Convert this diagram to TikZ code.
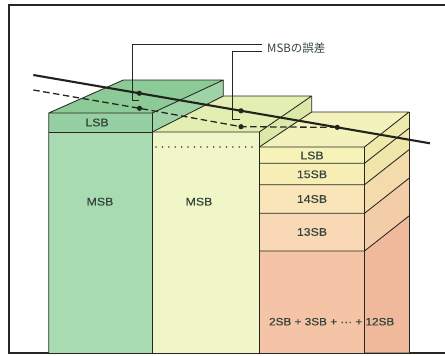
\documentclass[tikz,border=0pt]{standalone}
\usepackage{fontspec}
\newfontfamily\lab{Liberation Sans}[FakeStretch=1.12,FakeBold=0.4]
\newfontfamily\jp{Noto Sans CJK JP}
\definecolor{ink}{HTML}{26281F}
\definecolor{txt}{HTML}{34443A}
\definecolor{gband}{HTML}{96CFA2}
\definecolor{gfront}{HTML}{A8DBB2}
\definecolor{gtop}{HTML}{8CCA98}
\definecolor{gside}{HTML}{9ED2A7}
\definecolor{yfront}{HTML}{F0F6C8}
\definecolor{ytop}{HTML}{E3EEB2}
\definecolor{yside}{HTML}{DCE8A8}
\definecolor{ctop}{HTML}{F4F2BC}
\definecolor{ca}{HTML}{F6F2B8}
\definecolor{cb}{HTML}{F7EEB6}
\definecolor{cc}{HTML}{F9E5B8}
\definecolor{cd}{HTML}{F9D8B6}
\definecolor{ce}{HTML}{F5C3A5}
\definecolor{sa}{HTML}{EEEAAC}
\definecolor{sb}{HTML}{F0E6AC}
\definecolor{sc}{HTML}{F3DBAC}
\definecolor{sd}{HTML}{F3CCA8}
\definecolor{se}{HTML}{F0B99B}
\begin{document}
\begin{tikzpicture}[x=1pt,y=-1pt,
  edge/.style={draw=ink,line width=0.85pt,line join=round},
  lbl/.style={font=\lab\fontsize{11}{12}\selectfont,text=txt,inner sep=0pt},
  dot/.style={circle,fill=ink,inner sep=0pt,minimum size=5.2pt},
  lead/.style={draw=ink,line width=0.65pt},
  mainline/.style={draw=ink!90!black,line width=2.1pt},
  dashline/.style={draw=ink,line width=1.3pt,dash pattern=on 6.5pt off 3.5pt}]
\useasboundingbox (0,0) rectangle (445,356);
% frame
\draw[ink,line width=1.3pt] (446,5) -- (9,5) -- (9,353) -- (446,353);
% ---------- block 3 ----------
\fill[ctop] (259.3,147) -- (364.5,147) -- (409,112) -- (311.7,112) -- cycle;
\fill[ca] (259.3,147) rectangle (364.5,163.3);
\fill[cb] (259.3,163.3) rectangle (364.5,184.7);
\fill[cc] (259.3,184.7) rectangle (364.5,213.3);
\fill[cd] (259.3,213.3) rectangle (364.5,251);
\fill[ce] (259.3,251) rectangle (364.5,352.5);
\fill[sa] (364.5,147) -- (409,112) -- (409,128.3) -- (364.5,163.3) -- cycle;
\fill[sb] (364.5,163.3) -- (409,128.3) -- (409,149.7) -- (364.5,184.7) -- cycle;
\fill[sc] (364.5,184.7) -- (409,149.7) -- (409,178.3) -- (364.5,213.3) -- cycle;
\fill[sd] (364.5,213.3) -- (409,178.3) -- (409,216) -- (364.5,251) -- cycle;
\fill[se] (364.5,251) -- (409,216) -- (409,352.5) -- (364.5,352.5) -- cycle;
\draw[edge] (259.3,147) -- (364.5,147) -- (409,112) -- (311.7,112);
\draw[edge] (364.5,147) -- (364.5,353);
\draw[edge] (409,112) -- (409,353);
\draw[edge] (259.3,163.3) -- (364.5,163.3) -- (409,128.3);
\draw[edge] (259.3,184.7) -- (364.5,184.7) -- (409,149.7);
\draw[edge] (259.3,213.3) -- (364.5,213.3) -- (409,178.3);
\draw[edge] (259.3,251) -- (364.5,251) -- (409,216);
% ---------- block 2 ----------
\fill[ytop] (152.3,132) -- (259.3,132) -- (311.7,96) -- (205,96) -- cycle;
\fill[yside] (259.3,132) -- (311.7,96) -- (311.7,112) -- (259.3,147) -- cycle;
\fill[yfront] (152.3,132) rectangle (259.3,352.5);
\draw[edge] (152.3,132) -- (259.3,132) -- (311.7,96) -- (223.3,96);
\draw[edge] (311.7,96) -- (311.7,112) -- (259.3,147);
\draw[edge] (259.3,132) -- (259.3,353);
\draw[ink!85,line width=1.4pt,line cap=round,dash pattern=on 0.1pt off 6.3pt] (156,147) -- (257,147);
% ---------- block 1 ----------
\fill[gtop] (48.7,113) -- (152.3,113) -- (223.3,80) -- (123.3,80) -- cycle;
\fill[gside] (152.3,113) -- (223.3,80) -- (223.3,96) -- (152.3,132) -- cycle;
\fill[gband] (48.7,113) rectangle (152.3,132);
\fill[gfront] (48.7,132) rectangle (152.3,352.5);
\draw[edge] (48.7,353) -- (48.7,113) -- (123.3,80) -- (223.3,80) -- (152.3,113) -- (48.7,113);
\draw[edge] (152.3,113) -- (152.3,353);
\draw[edge] (223.3,80) -- (223.3,96) -- (152.3,132);
\draw[edge] (48.7,132) -- (152.3,132);
% ---------- labels in blocks ----------
\node[lbl] (lsb1) at (97,122.5) {LSB};
\node[lbl] (msb1) at (100,201.7) {MSB};
\node[lbl] (msb2) at (199,201.7) {MSB};
\node[lbl] (lsb3) at (312,155.5) {LSB};
\node[lbl] (b15) at (312,174.3) {15SB};
\node[lbl] (b14) at (312,199) {14SB};
\node[lbl] (b13) at (312,232) {13SB};
\node[lbl,font=\lab\fontsize{10.5}{12}\selectfont] (brest) at (331.7,321.7) {2SB + 3SB + ··· + 12SB};
% ---------- approximation lines ----------
\coordinate (s0) at (33.3,75);
\coordinate (s1) at (430,143.3);
\coordinate (t0) at (33.3,90);
\node[dot] (d1) at (139.3,93.25) {};
\node[dot] (d2) at (241,110.8) {};
\node[dot] (d3) at (337.3,127.35) {};
\node[dot] (e1) at (139.5,108.3) {};
\node[dot] (e2) at (241,126.7) {};
\draw[dashline] (t0) -- (e1.center) -- (e2.center) -- (d3.center);
\draw[mainline] (s0) -- (s1);
% ---------- error label ----------
\node[font=\jp\fontsize{11.5}{13}\selectfont,text=txt,inner sep=0pt,anchor=west] (err) at (267,48) {MSBの誤差};
\coordinate (a0) at (262,44.5);
\coordinate (a1) at (132,44.5);
\coordinate (a2) at (132,100.5);
\coordinate (a3) at (138.5,100.5);
\coordinate (c0) at (262,51.5);
\coordinate (c1) at (232,51.5);
\coordinate (c2) at (232,119);
\coordinate (c3) at (240,119);
\draw[lead] (a0) -- (a1) -- (a2) -- (a3);
\draw[lead] (c0) -- (c1) -- (c2) -- (c3);
\end{tikzpicture}
\end{document}
